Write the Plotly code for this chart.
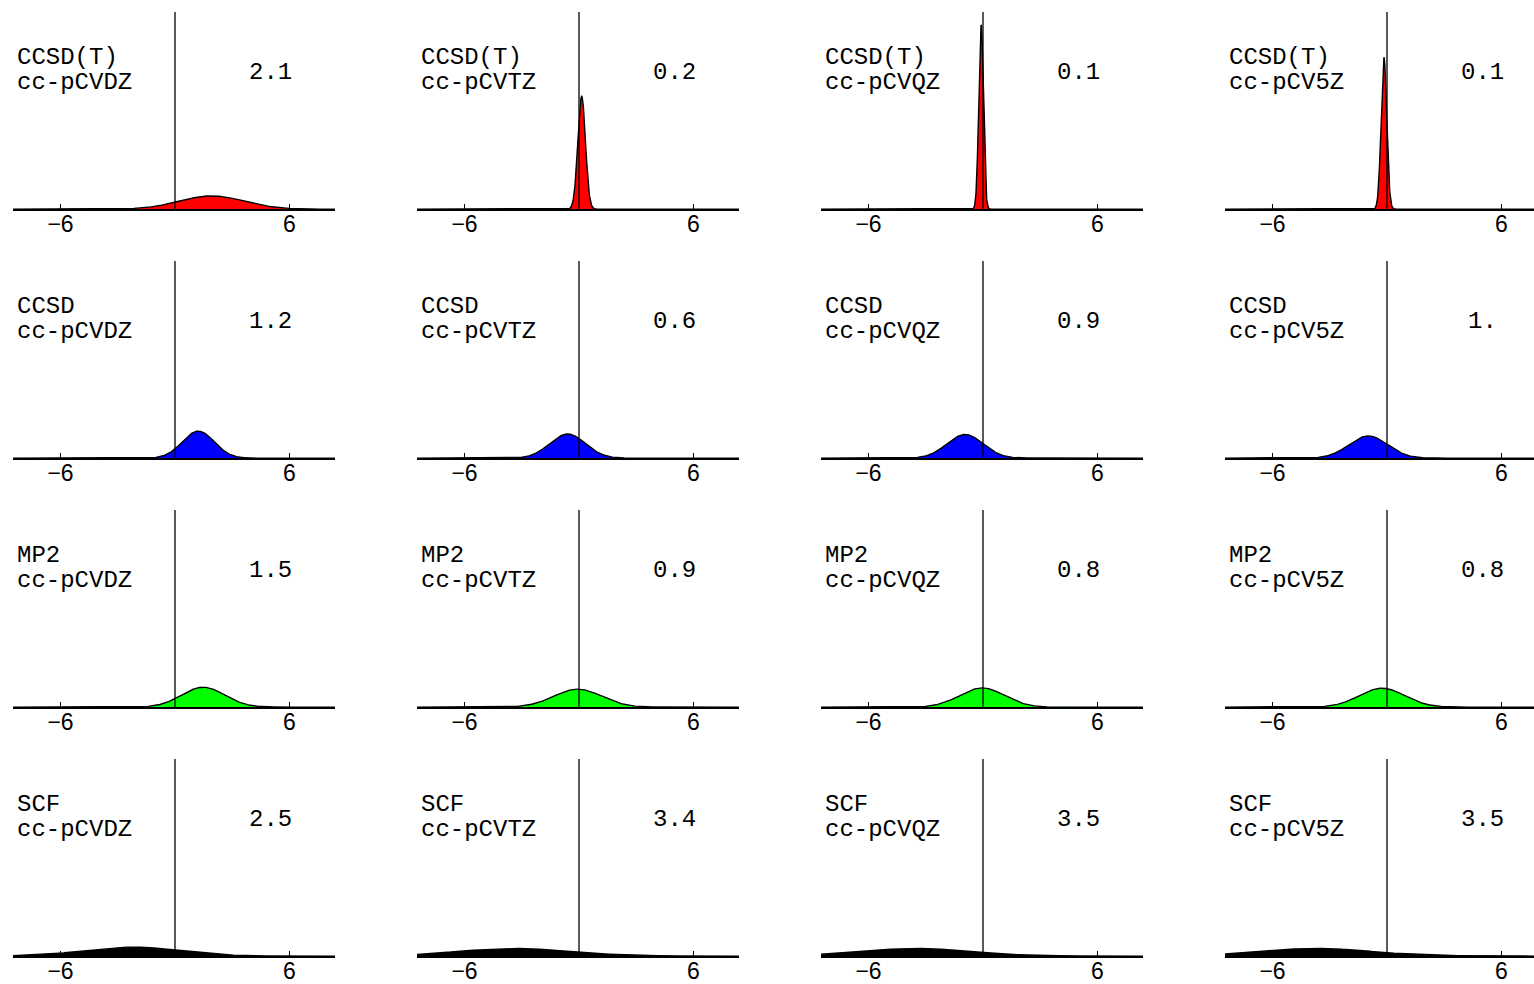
import numpy as np
import plotly.graph_objects as go

# ---------------- data ----------------
methods = ["CCSD(T)", "CCSD", "MP2", "SCF"]
bases = ["cc-pCVDZ", "cc-pCVTZ", "cc-pCVQZ", "cc-pCV5Z"]
method_colors = ["#ff0000", "#0000ff", "#00ff00", "#000000"]

# printed value in each panel (row = method, column = basis)
values_ccsdt = ["2.1", "0.2", "0.1", "0.1"]
values_ccsd = ["1.2", "0.6", "0.9", "1."]
values_mp2 = ["1.5", "0.9", "0.8", "0.8"]
values_scf = ["2.5", "3.4", "3.5", "3.5"]

# centre (mean) of each error distribution
mean_ccsdt = [1.92, 0.14, -0.10, -0.16]
mean_ccsd = [1.22, -0.60, -0.94, -0.98]
mean_mp2 = [1.48, -0.07, -0.05, -0.26]
mean_scf = [-2.25, -3.42, -3.57, -3.72]

# width (standard deviation) of each error distribution
sd_ccsdt = [1.70, 0.199, 0.122, 0.148]
sd_ccsd = [0.83, 0.93, 0.95, 1.01]
sd_mp2 = [1.13, 1.25, 1.17, 1.19]
sd_scf = [2.50, 2.93, 2.93, 2.93]

x_ticks = [-6, 6]

values = [values_ccsdt, values_ccsd, values_mp2, values_scf]
means = [mean_ccsdt, mean_ccsd, mean_mp2, mean_scf]
sds = [sd_ccsdt, sd_ccsd, sd_mp2, sd_scf]

# ---------------- layout geometry ----------------
W, H = 1534, 984
PPU = 19.08                        # pixels per x unit
ZERO_PX = [175, 579, 983, 1387]    # x pixel of x=0 in each column
LEFT_PX = [13, 417, 821, 1225]
TOP_PX = [12, 262, 512, 762]
AXIS_PX = [210, 460, 710, 960]
YMAX = 3.5

fig = go.Figure()
layout = dict(
    width=W, height=H,
    margin=dict(l=0, r=0, t=0, b=0),
    paper_bgcolor="white", plot_bgcolor="white",
    showlegend=False,
)
annotations = []
shapes = []

for r in range(4):
    for c in range(4):
        k = r * 4 + c + 1
        xs = "" if k == 1 else str(k)
        left = LEFT_PX[c]
        right = min(left + 322, W)
        zero = ZERO_PX[c]
        xmin = (left - zero) / PPU
        xmax = (right - zero) / PPU

        mu, sd = means[r][c], sds[r][c]
        x = np.linspace(xmin, xmax, 1500)
        y = np.exp(-0.5 * ((x - mu) / sd) ** 2) / (sd * np.sqrt(2 * np.pi))

        fig.add_trace(go.Scatter(
            x=x, y=y, mode="lines", fill="tozeroy",
            fillcolor=method_colors[r],
            line=dict(color="black", width=1.4),
            xaxis="x" + xs, yaxis="y" + xs, hoverinfo="skip",
        ))

        top = TOP_PX[r]
        axis = AXIS_PX[r]
        layout["xaxis" + xs] = dict(
            domain=[left / W, right / W], range=[xmin, xmax],
            anchor="y" + xs, showline=True, linecolor="black", linewidth=1.5,
            tickvals=x_ticks, ticks="inside", ticklen=5, tickcolor="black",
            ticklabelstandoff=-6,
            tickfont=dict(family="Liberation Sans, Arial", size=23, color="black"),
            showgrid=False, zeroline=False, fixedrange=True,
        )
        layout["yaxis" + xs] = dict(
            domain=[(H - axis) / H, (H - top) / H],
            range=[0, YMAX], anchor="x" + xs, visible=False,
            showgrid=False, zeroline=False, fixedrange=True,
        )

        # vertical axis at x = 0
        shapes.append(dict(
            type="line", xref="x" + xs, yref="y" + xs + " domain",
            x0=0, x1=0, y0=0, y1=1, layer="above",
            line=dict(color="black", width=1.3),
        ))

        tfont = dict(family="Liberation Mono, Courier New, monospace", size=24, color="black")
        annotations.append(dict(
            text=methods[r], xref="x" + xs, yref="y" + xs, x=xmin + 0.08, y=2.69,
            xanchor="left", yanchor="middle", showarrow=False, font=tfont,
        ))
        annotations.append(dict(
            text=bases[c], xref="x" + xs, yref="y" + xs, x=xmin + 0.08, y=2.25,
            xanchor="left", yanchor="middle", showarrow=False, font=tfont,
        ))
        annotations.append(dict(
            text=values[r][c], xref="x" + xs, yref="y" + xs, x=5.03, y=2.42,
            xanchor="center", yanchor="middle", showarrow=False, font=tfont,
        ))

layout["annotations"] = annotations
layout["shapes"] = shapes
fig.update_layout(**layout)
fig.write_html(
    "out.html",
    config={"displayModeBar": False},
    post_script="document.body.style.margin='0';document.documentElement.style.overflow='hidden';",
)
